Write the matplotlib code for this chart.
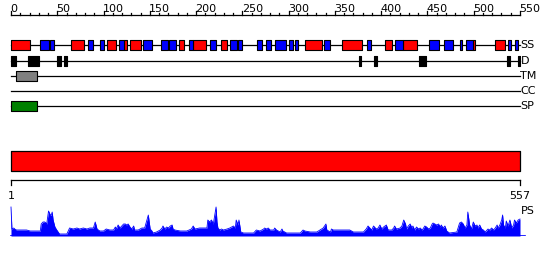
import matplotlib
matplotlib.use("Agg")
import matplotlib.pyplot as plt

# ---------------- data ----------------
seq_len = 557
ruler_major = [0, 50, 100, 150, 200, 250, 300, 350, 400, 450, 500, 550]
ruler_minor = list(range(0, 551, 10))
ruler_max = 550

track_names = ["SS", "D", "TM", "CC", "SP"]

ss_helix = [(1, 22), (67, 81), (106, 116), (124, 128), (131, 143), (184, 190),
            (200, 214), (230, 237), (322, 341), (363, 384), (409, 417),
            (429, 444), (506, 508), (530, 541)]
ss_strand = [(33, 42), (44, 48), (85, 91), (98, 103), (119, 124), (145, 155),
             (165, 172), (174, 181), (195, 200), (218, 225), (240, 248),
             (249, 253), (270, 275), (279, 285), (289, 301), (305, 309),
             (311, 314), (343, 350), (390, 394), (421, 429), (458, 468),
             (474, 484), (491, 494), (498, 506), (544, 547), (552, 555)]
disorder = [(1, 6), (20, 32), (51, 56), (59, 62), (381, 383), (397, 401),
            (447, 454), (543, 546), (555, 557)]
tm_regions = [(7, 29)]
cc_regions = []
sp_regions = [(1, 29)]

domain = [(1, 557)]

ps_pos = [1, 2, 4, 5, 7, 11, 15, 18, 22, 25, 29, 33, 34, 36, 38, 40, 42, 44, 45,
          46, 47, 49, 51, 54, 58, 62, 65, 69, 73, 76, 80, 84, 87, 91, 93, 95,
          98, 102, 105, 109, 113, 115, 116, 118, 120, 124, 126, 127, 129, 131,
          133, 135, 136, 140, 144, 147, 151, 153, 155, 156, 160, 164, 166, 167,
          169, 171, 173, 175, 177, 178, 180, 186, 193, 198, 200, 202, 207, 215,
          216, 218, 220, 222, 225, 226, 227, 229, 231, 233, 237, 240, 244, 246,
          247, 249, 250, 252, 255, 266, 268, 269, 273, 277, 278, 280, 282, 284,
          288, 289, 291, 295, 297, 298, 302, 309, 317, 320, 322, 328, 335, 342,
          345, 346, 350, 351, 353, 360, 371, 375, 386, 389, 391, 393, 395, 397,
          400, 402, 404, 406, 408, 411, 413, 417, 419, 420, 422, 426, 428, 430,
          432, 433, 435, 437, 439, 440, 442, 444, 446, 448, 450, 451, 453, 455,
          457, 459, 461, 462, 464, 466, 468, 470, 471, 473, 475, 477, 480, 488,
          491, 493, 495, 497, 499, 500, 502, 504, 506, 508, 510, 511, 513, 515,
          517, 519, 521, 522, 524, 526, 528, 530, 532, 533, 535, 537, 538, 539,
          541, 542, 544, 546, 548, 550, 551, 553, 555, 557]
ps_val = [29, 7, 8, 7, 6, 6, 6, 6, 5, 5, 5, 5, 12, 14, 14, 12, 25, 21, 21,
          24, 16, 9, 6, 2, 2, 2, 8, 7, 8, 7, 8, 7, 8, 8, 14, 7,
          5, 5, 7, 6, 6, 9, 7, 11, 8, 12, 12, 11, 12, 9,
          7, 10, 6, 6, 8, 8, 21, 7, 5, 3, 4, 6, 8, 10,
          7, 9, 8, 10, 11, 7, 6, 5, 5, 7, 10, 7, 8, 8,
          16, 14, 16, 12, 29, 14, 8, 6, 7, 6, 7, 8, 10, 8,
          16, 11, 16, 4, 3, 3, 5, 6, 5, 7, 8, 7, 8, 6,
          6, 8, 6, 4, 7, 5, 3, 3, 3, 6, 5, 4, 4, 8,
          12, 6, 4, 7, 6, 6, 6, 4, 4, 7, 10, 8, 6, 10,
          7, 8, 11, 7, 9, 11, 6, 6, 8, 10, 7, 8, 10, 16,
          12, 7, 10, 12, 8, 10, 6, 9, 7, 8, 6, 7, 10, 9,
          7, 8, 12, 13, 12, 11, 12, 9, 11, 8, 10, 5, 3, 4,
          13, 14, 12, 8, 11, 24, 11, 7, 14, 10, 11, 8, 11, 7,
          6, 4, 6, 7, 6, 8, 6, 8, 11, 8, 11, 16, 21, 11,
          8, 15, 10, 16, 8, 11, 16, 13, 16, 17]

# ---------------- layout ----------------
W, H = 550, 260
fig = plt.figure(figsize=(W / 100, H / 100), dpi=100)
ax = fig.add_axes([0, 0, 1, 1])
res_per_px = (seq_len - 1) / 509.0
x0 = 1 - 11 * res_per_px
x1 = 1 + (W - 11) * res_per_px
ax.set_xlim(x0, x1)
ax.set_ylim(H, 0)
ax.axis("off")

fs = 8
lw = 0.9


def rpos(v):
    return 1 + v * (seq_len - 1) / ruler_max


# ruler
ax.plot([rpos(0), rpos(ruler_max)], [15, 15], color="black", lw=lw)
for v in ruler_minor:
    if v in ruler_major:
        ax.plot([rpos(v), rpos(v)], [15, 10.5], color="black", lw=lw)
    else:
        ax.plot([rpos(v), rpos(v)], [15, 12.5], color="black", lw=lw)
for v in ruler_major:
    ax.text(rpos(v) - 0.8, 11.8, str(v), fontsize=fs, ha="left", va="baseline",
            color="black", family="DejaVu Sans")

# tracks
track_y = [45, 60.5, 75.5, 90.5, 105.5]
box_h = 10
tracks = {
    "SS": [(ss_helix, "#ff0000"), (ss_strand, "#0000ff")],
    "D": [(disorder, "#000000")],
    "TM": [(tm_regions, "#808080")],
    "CC": [(cc_regions, "#808080")],
    "SP": [(sp_regions, "#008000")],
}
for name, y in zip(track_names, track_y):
    ax.plot([1, seq_len], [y, y], color="black", lw=lw, zorder=1)
    for regions, col in tracks[name]:
        if regions:
            ax.broken_barh([(s, e - s) for s, e in regions], (y - box_h / 2, box_h),
                           facecolors=col, edgecolors="black", linewidth=0.8, zorder=2)
    ax.text(seq_len + 0.5, y + 0.3, name, fontsize=fs, ha="left", va="center",
            color="black", family="DejaVu Sans")

# domain bar
ax.broken_barh([(s, e - s) for s, e in domain], (150.5, 20), facecolors="#ff0000",
               edgecolors="black", linewidth=0.9, zorder=2)

# bottom axis
ax.plot([1, seq_len], [180, 180], color="black", lw=lw)
ax.plot([1, 1], [180, 184.5], color="black", lw=lw)
ax.plot([seq_len, seq_len], [180, 184.5], color="black", lw=lw)
ax.text(1, 196, "1", fontsize=fs, ha="center", va="center", family="DejaVu Sans")
ax.text(seq_len, 196, str(seq_len), fontsize=fs, ha="center", va="center",
        family="DejaVu Sans")
ax.text(seq_len + 1, 211, "PS", fontsize=fs, ha="left", va="center",
        family="DejaVu Sans")

# PS profile
base_px = 236
pax = fig.add_axes([0, (H - base_px) / H, 1, 30 / H])
pax.set_xlim(x0, x1)
pax.set_ylim(0, 30)
pax.axis("off")
pax.fill_between(ps_pos, 0, ps_val, color="#0000ff", lw=0)
pax.plot(ps_pos, ps_val, color="#0000ff", lw=0.6)
pax.plot([1, seq_len + 5], [0, 0], color="#0000ff", lw=1.2)

fig.savefig("out.png", dpi=100)
